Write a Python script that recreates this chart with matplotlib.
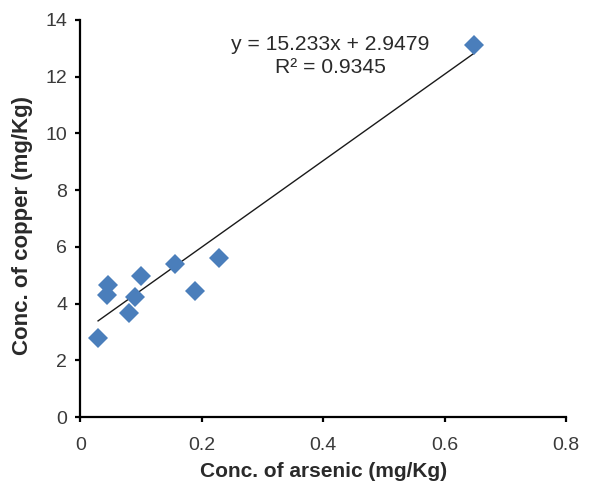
import matplotlib
matplotlib.use("Agg")
import matplotlib.pyplot as plt
import numpy as np

plt.rcParams['font.family'] = ['Liberation Sans', 'DejaVu Sans']

# Arsenic vs copper concentrations (mg/Kg)
arsenic = [0.029, 0.046, 0.043, 0.080, 0.090, 0.099, 0.156, 0.189, 0.229, 0.648]
copper = [2.78, 4.65, 4.30, 3.68, 4.24, 4.97, 5.39, 4.45, 5.60, 13.12]

# Linear trendline coefficients
slope = 15.233
intercept = 2.9479
r_squared = 0.9345

x_ticks = [0, 0.2, 0.4, 0.6, 0.8]
y_ticks = [0, 2, 4, 6, 8, 10, 12, 14]

fig = plt.figure(figsize=(5.9, 4.84), dpi=100)
ax = fig.add_axes([0.1364, 0.1384, 0.8229, 0.8203])

ax.plot(arsenic, copper, linestyle='none', marker='D', markersize=10,
        color='#4a7ebb', markeredgewidth=0, zorder=3)

xs = np.array([min(arsenic), max(arsenic)])
ax.plot(xs, slope * xs + intercept, color='#1a1a1a', linewidth=1.0, zorder=2)

ax.set_xlim(0, 0.8)
ax.set_ylim(0, 14)
ax.set_xticks(x_ticks)
ax.set_yticks(y_ticks)
ax.set_xticklabels([f"{v:g}" for v in x_ticks])
ax.set_yticklabels([f"{v:g}" for v in y_ticks])

for side in ('top', 'right'):
    ax.spines[side].set_visible(False)
for side in ('left', 'bottom'):
    ax.spines[side].set_linewidth(1.6)
    ax.spines[side].set_color('black')

ax.tick_params(axis='both', direction='out', length=3.5, width=1.6,
               labelsize=14, labelcolor='#3a3a3a')
ax.tick_params(axis='x', pad=11)
ax.tick_params(axis='y', pad=6)

ax.set_xlabel('Conc. of arsenic (mg/Kg)', fontsize=15, fontweight='bold',
              color='#2a2a2a', va='center')
ax.xaxis.set_label_coords(0.5, -0.137)
ax.set_ylabel('Conc. of copper (mg/Kg)', fontsize=16, fontweight='bold',
              color='#2a2a2a', va='center')
ax.yaxis.set_label_coords(-0.1184, 0.4836)

ax.text(0.412, 13.12, f"y = {slope:.3f}x + {intercept:.4f}", ha='center',
        va='center', fontsize=15.2, color='#2a2a2a')
ax.text(0.412, 12.34, f"R\u00b2 = {r_squared:.4f}", ha='center',
        va='center', fontsize=15.2, color='#2a2a2a')

fig.savefig('out.png', dpi=100)
